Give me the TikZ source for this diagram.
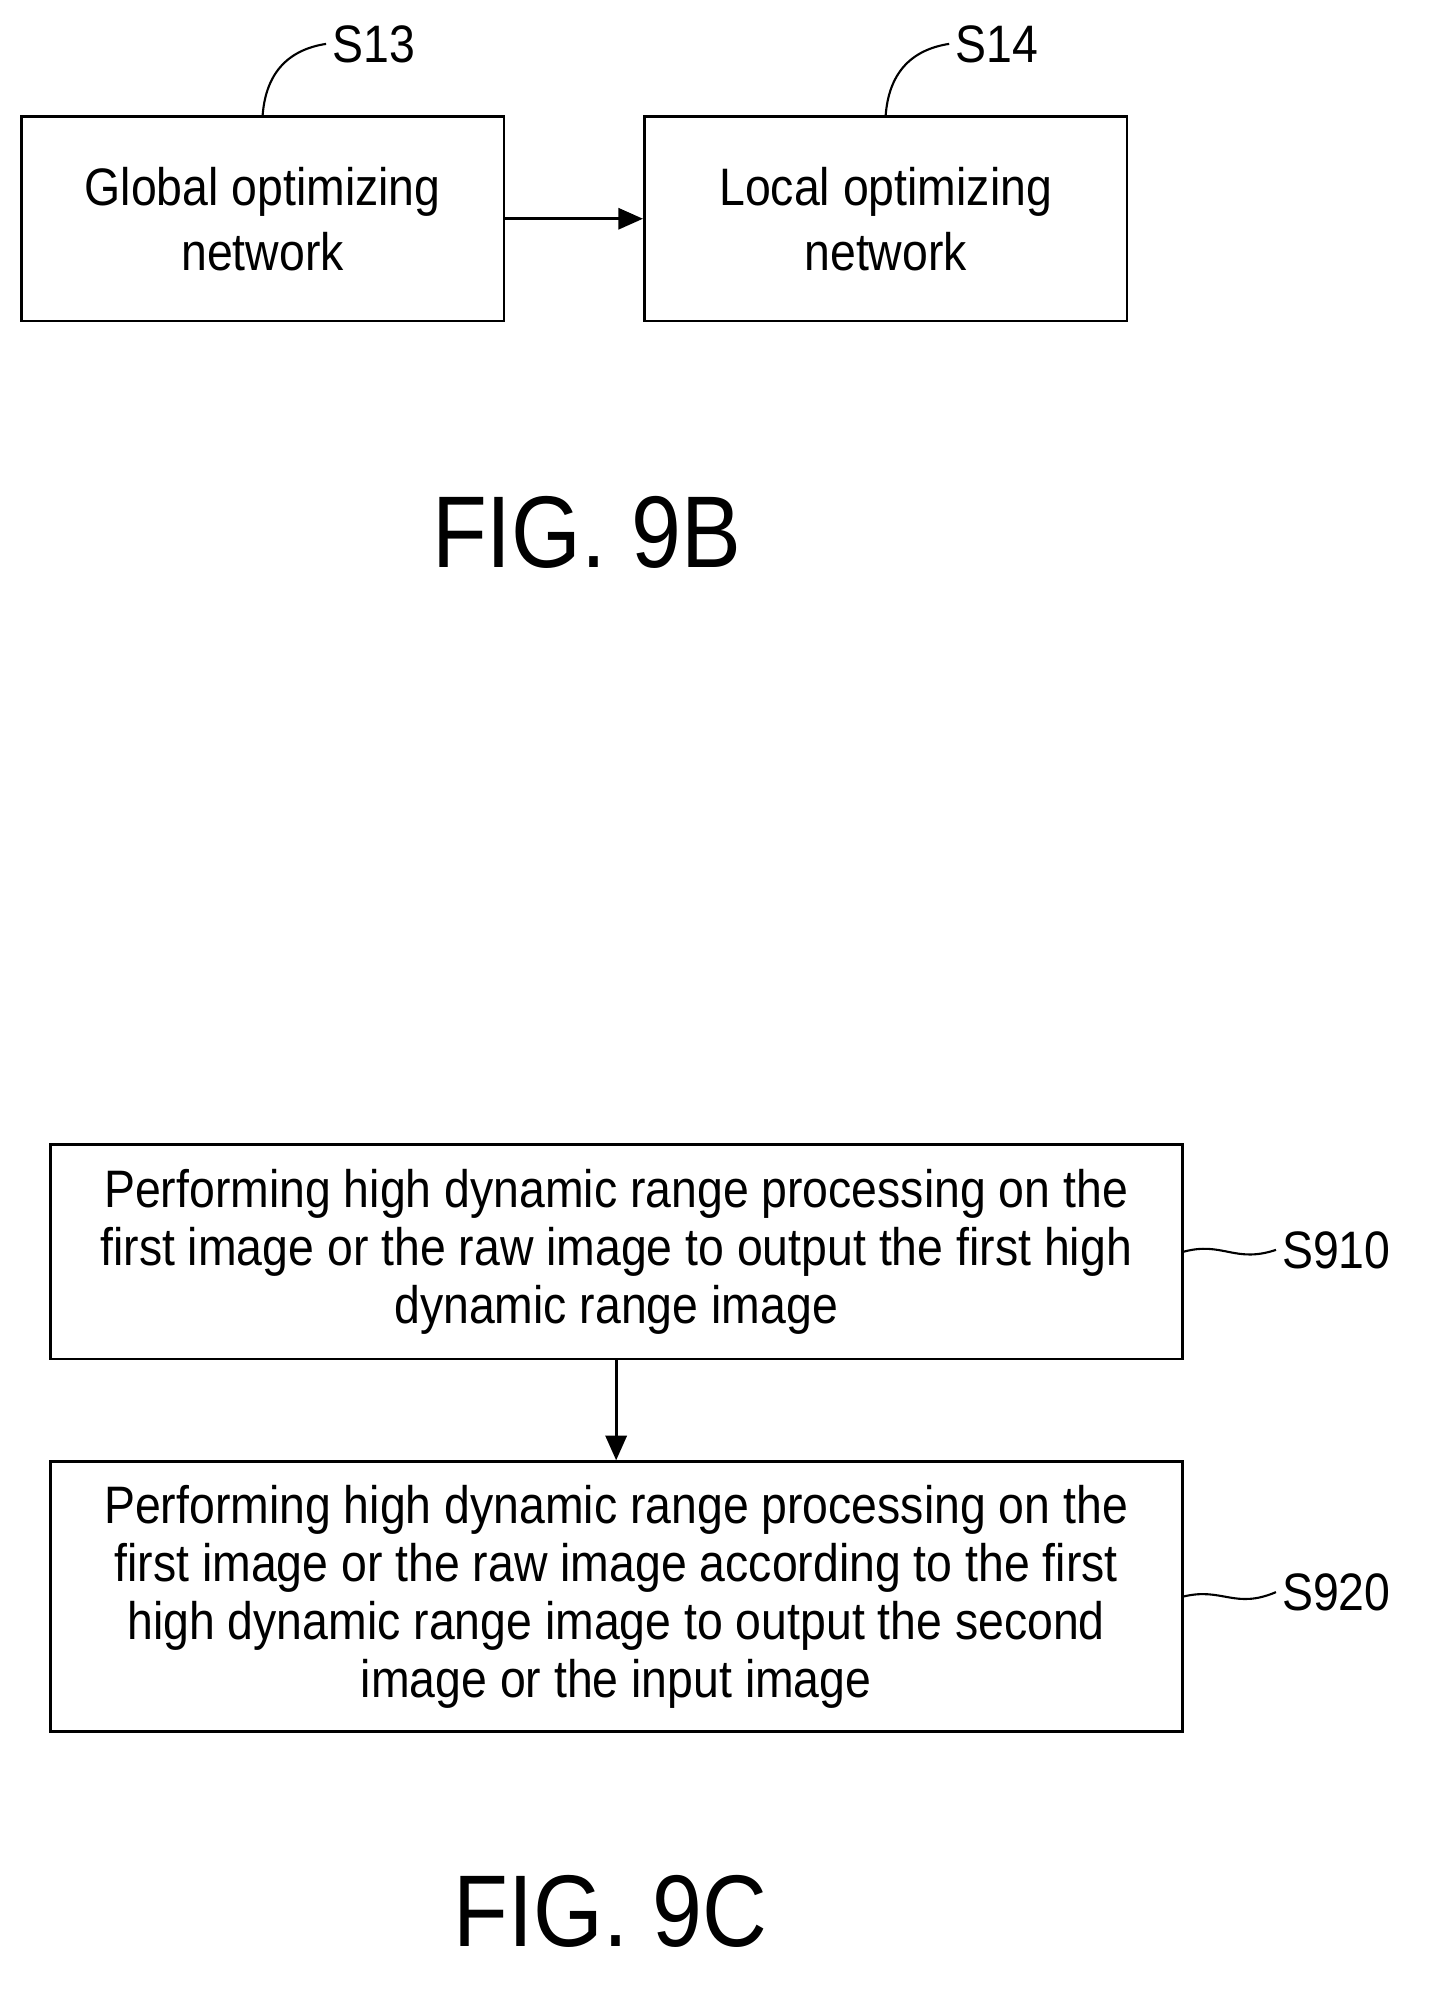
\documentclass[tikz,border=0pt]{standalone}
\usepackage{fontspec}
\setmainfont{Liberation Sans}[FakeStretch=0.88]
\usetikzlibrary{arrows.meta,positioning}
\tikzset{
    stepbox/.style={
        draw,
        line width=1.6pt,
        rectangle,
        align=center,
        inner sep=0pt,
        font=\fontsize{30}{33}\selectfont
    },
    tag/.style={
        font=\fontsize{30}{33}\selectfont
    },
    figlabel/.style={
        font=\fontsize{58}{60}\selectfont
    },
    arrow/.style={
        -{Triangle[length=14pt,width=12pt]},
        line width=1.6pt
    },
    leader/.style={
        line width=1.2pt
    }
}
\begin{document}
\begin{tikzpicture}[x=0.02507cm,y=-0.02507cm]
    \useasboundingbox (0,0) rectangle (1140,1589);
    % FIG. 9B
    \node[stepbox, minimum width=385*0.02507cm, minimum height=163*0.02507cm] (global) at (209.5,174.5) {Global optimizing\\[4pt]network};
    \node[stepbox, minimum width=385*0.02507cm, minimum height=163*0.02507cm] (local) at (706.5,174.5) {Local optimizing\\[4pt]network};
    \draw[arrow] (global) -- (local);
    \node[tag] (s13) at (298,35) {S13};
    \node[tag] (s14) at (795,35) {S14};
    \draw[leader] (global.north) .. controls (212,60) and (228,40) .. (s13.west);
    \draw[leader] (local.north) .. controls (709,60) and (725,40) .. (s14.west);
    \node[figlabel] (fig9b) at (468,425) {FIG. 9B};
    % FIG. 9C
    \node[stepbox, minimum width=903*0.02507cm, minimum height=171*0.02507cm] (hdr1) at (491.5,998.5) {Performing high dynamic range processing on the\\first image or the raw image to output the first high\\dynamic range image};
    \node[stepbox, minimum width=903*0.02507cm, minimum height=215*0.02507cm] (hdr2) at (491.5,1273.5) {Performing high dynamic range processing on the\\first image or the raw image according to the first\\high dynamic range image to output the second\\image or the input image};
    \draw[arrow] (hdr1) -- (hdr2);
    \node[tag] (s910) at (1066,997) {S910};
    \node[tag] (s920) at (1066,1270) {S920};
    \draw[leader] (hdr1.east) .. controls (975,990) and (985,1008) .. (s910.west);
    \draw[leader] (hdr2.east) .. controls (975,1266) and (985,1284) .. (s920.west);
    \node[figlabel] (fig9c) at (487,1525) {FIG. 9C};
\end{tikzpicture}
\end{document}
